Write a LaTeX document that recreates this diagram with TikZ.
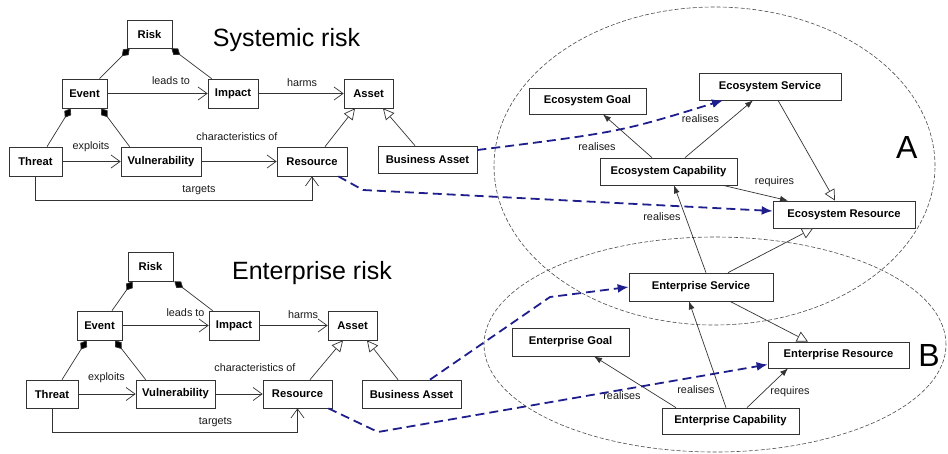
\documentclass[tikz,border=0pt]{standalone}
\usepackage{fontspec}
\setmainfont{Liberation Sans}
\usetikzlibrary{arrows.meta}
\definecolor{tracecol}{RGB}{30,30,140}
\begin{document}
\begin{tikzpicture}[x=1pt,y=-1pt,
 box/.style={draw=black!80, fill=white, line width=0.7pt, inner sep=0pt, font=\fontsize{11.2}{12}\selectfont\bfseries},
 lbl/.style={font=\fontsize{10.8}{12}\selectfont, inner sep=0pt, text=black!90},
 assoc/.style={draw=black!80, line width=0.7pt, -{Straight Barb[length=9pt,width=13pt]}},
 gen/.style={draw=black!80, line width=0.7pt, -{Triangle[open,fill=white,length=11pt,width=11pt]}},
 comp/.style={draw=black!80, line width=0.7pt, {Diamond[length=11pt,width=8pt,fill=black]}-},
 rel/.style={draw=black!80, line width=0.7pt, -{Latex[length=8pt,width=6pt]}},
 trace/.style={draw=tracecol, line width=1.8pt, dash pattern=on 9pt off 5pt, -{Latex[length=11pt,width=9pt]}},
 scopeell/.style={draw=black!70, line width=0.6pt, dash pattern=on 4pt off 2pt},
 title/.style={font=\fontsize{25}{28}\selectfont, anchor=base, inner sep=0pt},
 bigletter/.style={font=\fontsize{32}{34}\selectfont, anchor=base, inner sep=0pt}
]
\useasboundingbox (0,0) rectangle (948,453);

% scope ellipses
\draw[scopeell] (714.5,166) ellipse [x radius=220.5pt, y radius=159pt];
\draw[scopeell] (715,344.5) ellipse [x radius=231pt, y radius=107.5pt];

% titles
\node[title] (t1) at (286.5,46.7) {Systemic risk};
\node[title] (t2) at (312,279.3) {Enterprise risk};
\node[bigletter] (la) at (906.7,158.3) {A};
\node[bigletter] (lb) at (929,366.7) {B};

% systemic risk
\node[box, minimum width=45pt, minimum height=28pt] (Risk1) at (149.5,34) {Risk};
\node[box, minimum width=45pt, minimum height=29pt] (Event1) at (84.5,93.5) {Event};
\node[box, minimum width=50pt, minimum height=29pt] (Impact1) at (233,93.5) {Impact};
\node[box, minimum width=49pt, minimum height=29pt] (Asset1) at (368.5,93.5) {Asset};
\node[box, minimum width=53pt, minimum height=29pt] (Threat1) at (35.5,161.5) {Threat};
\node[box, minimum width=80pt, minimum height=29pt] (Vuln1) at (161,161.5) {Vulnerability};
\node[box, minimum width=70pt, minimum height=29pt] (Res1) at (312,161.5) {Resource};
\node[box, minimum width=99pt, minimum height=27pt] (BA1) at (427.5,159.5) {Business Asset};

% enterprise risk
\node[box, minimum width=45pt, minimum height=29pt] (Risk2) at (150.5,266.5) {Risk};
\node[box, minimum width=45pt, minimum height=29pt] (Event2) at (99.5,325.5) {Event};
\node[box, minimum width=50pt, minimum height=29pt] (Impact2) at (234,325.5) {Impact};
\node[box, minimum width=49pt, minimum height=29pt] (Asset2) at (352.5,325.5) {Asset};
\node[box, minimum width=52pt, minimum height=28pt] (Threat2) at (52,394) {Threat};
\node[box, minimum width=79pt, minimum height=28pt] (Vuln2) at (175.5,394) {Vulnerability};
\node[box, minimum width=69pt, minimum height=28pt] (Res2) at (297.5,394) {Resource};
\node[box, minimum width=99pt, minimum height=28pt] (BA2) at (411.5,394) {Business Asset};

% ecosystem
\node[box, minimum width=117pt, minimum height=26pt] (EG) at (587.5,101) {Ecosystem Goal};
\node[box, minimum width=142pt, minimum height=27pt] (ES) at (770,86.5) {Ecosystem Service};
\node[box, minimum width=137pt, minimum height=27pt] (EC) at (668.5,171.5) {Ecosystem Capability};
\node[box, minimum width=142pt, minimum height=27pt] (ER) at (844,214.5) {Ecosystem Resource};

% enterprise
\node[box, minimum width=144pt, minimum height=28pt] (NS) at (701,287) {Enterprise Service};
\node[box, minimum width=117pt, minimum height=28pt] (NG) at (570.5,342) {Enterprise Goal};
\node[box, minimum width=141pt, minimum height=26pt] (NR) at (838.5,355) {Enterprise Resource};
\node[box, minimum width=137pt, minimum height=26pt] (NC) at (730.5,421) {Enterprise Capability};

% systemic risk connectors
\draw[comp] ([xshift=3pt]Risk1.south west) -- ([xshift=15pt]Event1.north);
\draw[comp] ([xshift=-1pt]Risk1.south east) -- ([xshift=4pt]Impact1.north west);
\draw[comp] ([xshift=9pt]Event1.south west) -- ([xshift=11.5pt]Threat1.north);
\draw[comp] ([xshift=16.5pt]Event1.south) -- ([xshift=9pt]Vuln1.north west);
\draw[gen] ([xshift=13pt]Res1.north) -- ([xshift=-13.5pt]Asset1.south);
\draw[gen] ([xshift=-12.5pt]BA1.north) -- ([xshift=14.5pt]Asset1.south);
\draw[assoc] (Event1) -- (Impact1) node[lbl] at (171,81) {leads to};
\draw[assoc] (Impact1) -- (Asset1) node[lbl] at (302,83) {harms};
\draw[assoc] (Threat1) -- (Vuln1) node[lbl] at (91,147) {exploits};
\draw[assoc] (Vuln1) -- (Res1) node[lbl] at (237,137) {characteristics of};
\draw[assoc] (Threat1.south) -- ++(0,24) -| (Res1.south) node[lbl] at (199,190) {targets};

% enterprise risk connectors
\draw[comp] ([xshift=5pt]Risk2.south west) -- ([xshift=12.5pt]Event2.north);
\draw[comp] ([xshift=1pt]Risk2.south east) -- ([xshift=4pt]Impact2.north west);
\draw[comp] ([xshift=10pt]Event2.south west) -- ([xshift=10pt]Threat2.north);
\draw[comp] ([xshift=15.5pt]Event2.south) -- ([xshift=10pt]Vuln2.north west);
\draw[gen] ([xshift=12.5pt]Res2.north) -- ([xshift=-9.5pt]Asset2.south);
\draw[gen] ([xshift=-13.5pt]BA2.north) -- ([xshift=14.5pt]Asset2.south);
\draw[assoc] (Event2) -- (Impact2) node[lbl] at (185.5,313) {leads to};
\draw[assoc] (Impact2) -- (Asset2) node[lbl] at (303,315) {harms};
\draw[assoc] (Threat2) -- (Vuln2) node[lbl] at (106.5,378) {exploits};
\draw[assoc] (Vuln2) -- (Res2) node[lbl] at (255,368) {characteristics of};
\draw[assoc] (Threat2.south) -- ++(0,24) -| (Res2.south) node[lbl] at (215.5,422) {targets};

% ecosystem connectors
\draw[rel] ([xshift=-16.5pt]EC.north) -- ([xshift=15.5pt]EG.south) node[lbl] at (597,147) {realises};
\draw[rel] ([xshift=16.5pt]EC.north) -- ([xshift=-17pt]ES.south) node[lbl] at (700.5,118.5) {realises};
\draw[rel] ([xshift=54.5pt]EC.south) -- ([xshift=-56pt]ER.north) node[lbl] at (774.5,182) {requires};
\draw[gen] ([xshift=8pt]ES.south) -- ([xshift=-9pt]ER.north);
\draw[rel] ([xshift=5pt]NS.north) -- ([xshift=5.5pt]EC.south) node[lbl] at (662,217) {realises};
\draw[gen] ([xshift=27pt]NS.north) -- ([xshift=-31pt]ER.south);

% enterprise connectors
\draw[gen] ([xshift=29pt]NS.south) -- ([xshift=-30.5pt]NR.north);
\draw[rel] ([xshift=-54.5pt]NC.north) -- ([xshift=23.5pt]NG.south) node[lbl] at (622,395.5) {realises};
\draw[rel] ([xshift=-4.5pt]NC.north) -- ([xshift=-12pt]NS.south) node[lbl] at (696,390) {realises};
\draw[rel] ([xshift=16.5pt]NC.north) -- ([xshift=-50.5pt]NR.south) node[lbl] at (790,391.5) {requires};

% trace links
\draw[trace] ([yshift=9.5pt]BA1.east) .. controls (620,132) .. ([xshift=-47pt]ES.south);
\draw[trace] ([xshift=-9pt]Res1.south east) -- (363,190) -- ([yshift=3.5pt]ER.west);
\draw[trace] ([xshift=18.5pt]BA2.north) -- (550,297) -- (NS.west);
\draw[trace] ([xshift=-4pt]Res2.south east) -- (378,432) -- ([yshift=-9.5pt]NR.west);
\end{tikzpicture}
\end{document}
